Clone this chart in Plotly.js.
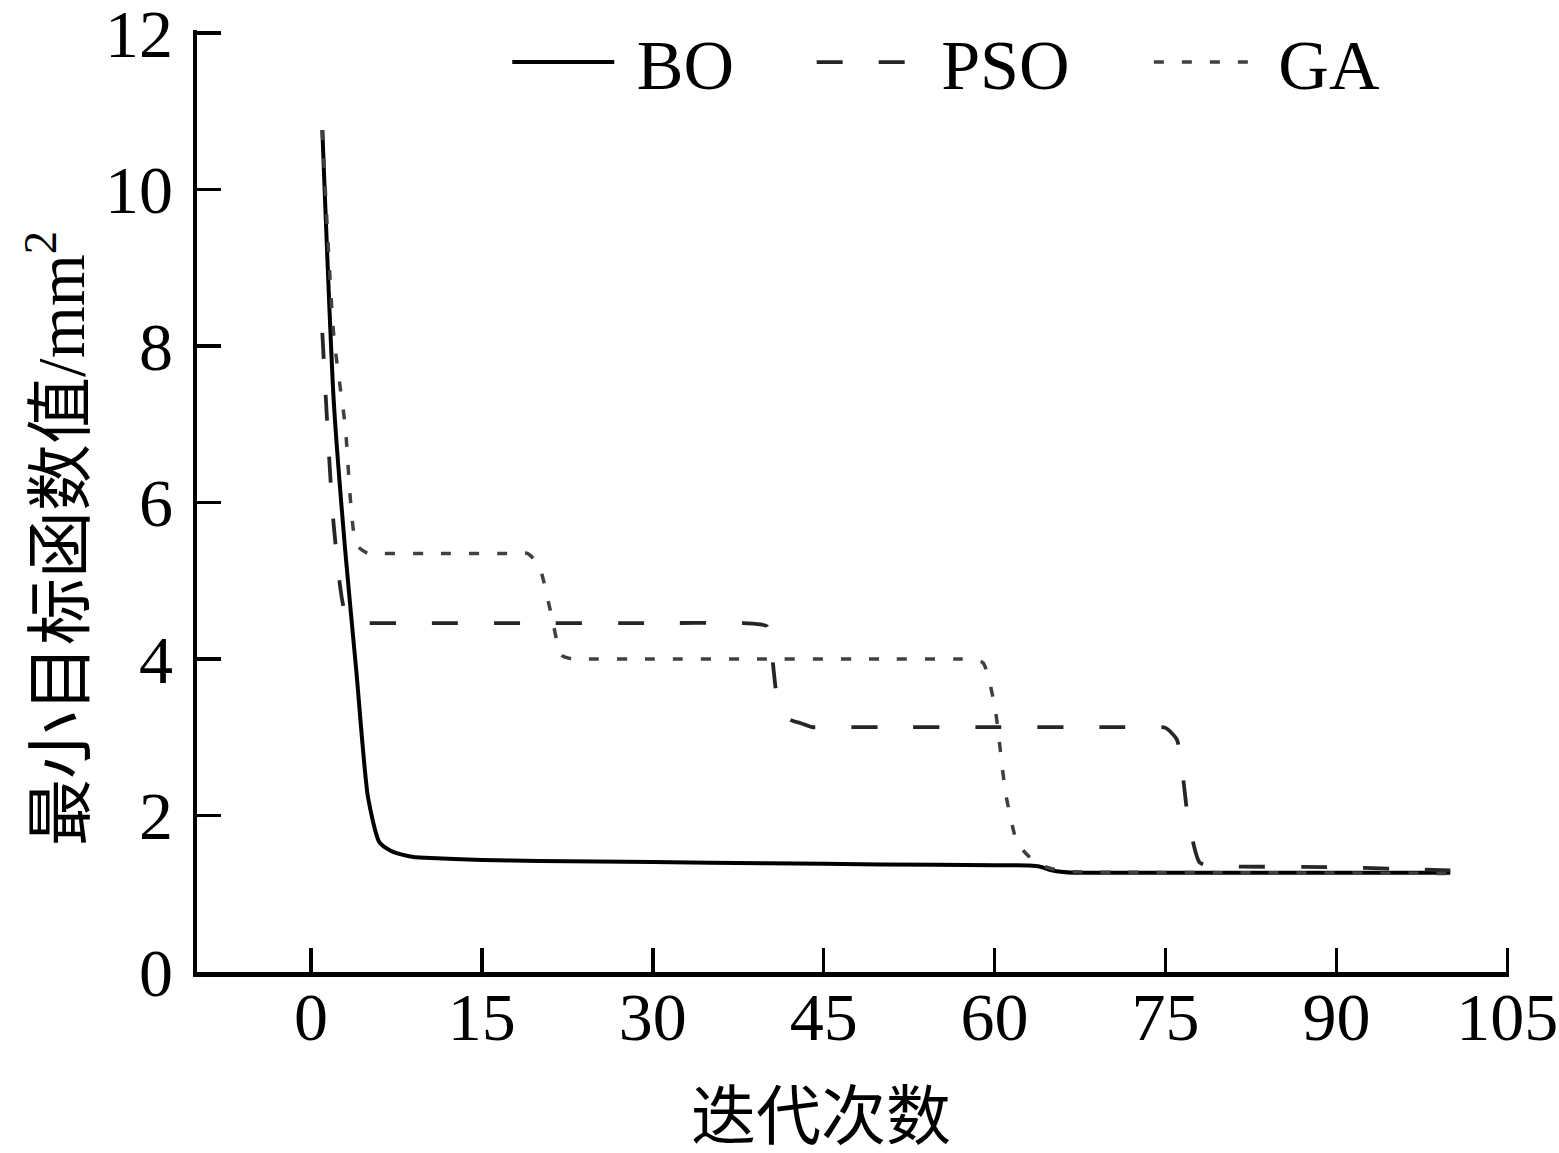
<!DOCTYPE html>
<html>
<head>
<meta charset="utf-8">
<script src="https://cdn.plot.ly/plotly-3.0.1.min.js"></script>
<style>
  html, body { margin: 0; padding: 0; background: #fff; }
  #chart { width: 1559px; height: 1153px; }
</style>
</head>
<body>
<div id="chart"></div>
<script>
// iteration numbers and best objective value (mm^2)
var boX = [1, 2, 3, 4, 5, 6, 7, 8, 9, 10, 15, 20, 30, 40, 50, 60, 63, 64, 65, 66, 67, 80, 100]
var boY = [10.76, 7.3, 5.4, 3.82, 2.24, 1.66, 1.55, 1.5, 1.47, 1.46, 1.43, 1.42, 1.405, 1.39, 1.375, 1.365, 1.36, 1.345, 1.3, 1.278, 1.27, 1.27, 1.27]

var psoX = [1, 2, 3, 4, 5, 10, 20, 30, 38, 39, 40, 41, 42, 43, 44, 45, 50, 60, 70, 74, 75, 76, 77, 78, 79, 80, 90, 95, 100]
var psoY = [8.17, 5.71, 4.6, 4.46, 4.46, 4.46, 4.46, 4.46, 4.46, 4.45, 4.42, 3.45, 3.23, 3.18, 3.13, 3.13, 3.13, 3.13, 3.13, 3.13, 3.12, 2.97, 1.95, 1.4, 1.36, 1.35, 1.34, 1.32, 1.3]

var gaX = [1, 2, 3, 4, 5, 6, 10, 18, 19, 20, 21, 22, 23, 24, 30, 40, 50, 57, 58, 59, 60, 61, 62, 63, 64, 65, 66, 67, 80, 100]
var gaY = [10.76, 8.14, 6.99, 5.46, 5.35, 5.35, 5.35, 5.35, 5.35, 5.2, 4.63, 4.05, 4.0, 4.0, 4.0, 4.0, 4.0, 4.0, 4.0, 3.95, 3.41, 2.26, 1.65, 1.48, 1.37, 1.32, 1.29, 1.28, 1.27, 1.26]

var xTicks = [0, 15, 30, 45, 60, 75, 90, 105]
var yTicks = [0, 2, 4, 6, 8, 10, 12]

var serif = 'Liberation Serif, DejaVu Serif, serif'
var cjk = 'Liberation Serif, Noto Sans CJK SC, serif'

var traces = [
  {
    x: boX, y: boY, name: '&nbsp;BO', type: 'scatter', mode: 'lines',
    line: { color: '#000000', width: 4, shape: 'spline', smoothing: 0.6 },
    legend: 'legend'
  },
  {
    x: psoX, y: psoY, name: '&nbsp;PSO', type: 'scatter', mode: 'lines',
    line: { color: '#262626', width: 3.8, dash: '26px,36px', shape: 'spline', smoothing: 0.6 },
    legend: 'legend2'
  },
  {
    x: gaX, y: gaY, name: '&nbsp;GA', type: 'scatter', mode: 'lines',
    line: { color: '#404040', width: 3.5, dash: '10px,18px', shape: 'spline', smoothing: 0.6 },
    legend: 'legend3'
  }
]

const legendAt = (xPos) => ({
  orientation: 'h',
  x: xPos, y: 0.966,
  xanchor: 'left', yanchor: 'middle',
  bgcolor: 'rgba(0,0,0,0)',
  itemwidth: 102,
  font: { family: serif, size: 70, color: '#000' }
})

var layout = {
  width: 1559,
  height: 1153,
  margin: { l: 197, r: 50, t: 30, b: 181, autoexpand: false },
  paper_bgcolor: '#fff',
  plot_bgcolor: '#fff',
  showlegend: true,
  legend: legendAt(0.2365),
  legend2: legendAt(0.4685),
  legend3: legendAt(0.7255),
  xaxis: {
    range: [-10, 105.15],
    tickvals: xTicks,
    ticktext: xTicks.map(String),
    ticks: 'inside', ticklen: 24, tickwidth: 3.5, tickcolor: '#000',
    showline: true, linewidth: 4.5, linecolor: '#000',
    showgrid: false, zeroline: false,
    ticklabelstandoff: -18,
    ticklabeloverflow: 'allow',
    tickfont: { family: serif, size: 68, color: '#000' }
  },
  yaxis: {
    range: [0, 12.04],
    tickvals: yTicks,
    ticktext: yTicks.map(String),
    ticks: 'inside', ticklen: 24, tickwidth: 3.5, tickcolor: '#000',
    showline: true, linewidth: 4.5, linecolor: '#000',
    showgrid: false, zeroline: false,
    ticklabelstandoff: 6,
    ticklabeloverflow: 'allow',
    tickfont: { family: serif, size: 68, color: '#000' }
  },
  annotations: [
    {
      text: '迭代次数', xref: 'paper', yref: 'paper',
      x: 0.4756, y: -0.154, xanchor: 'center', yanchor: 'middle',
      showarrow: false, font: { family: cjk, size: 65, color: '#000' }
    },
    {
      text: '最小目标函数值/mm<sup>2</sup>', xref: 'paper', yref: 'paper',
      x: -0.108, y: 0.46, xanchor: 'center', yanchor: 'middle', textangle: -90,
      showarrow: false, font: { family: cjk, size: 67, color: '#000' }
    }
  ]
}

Plotly.newPlot('chart', traces, layout, { displayModeBar: false, staticPlot: true })
</script>
</body>
</html>
